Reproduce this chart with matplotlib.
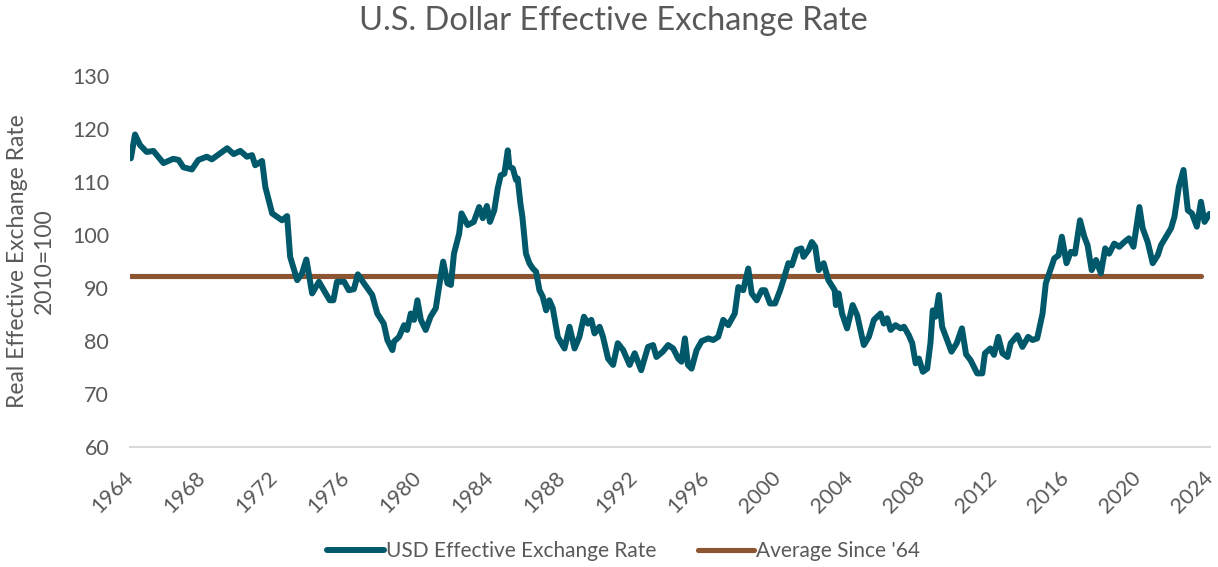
import numpy as np
import matplotlib
matplotlib.use("Agg")
import matplotlib.pyplot as plt

# USD real effective exchange rate (2010=100)
years = [1964.05, 1964.28, 1964.56, 1964.93, 1965.3, 1965.86, 1966.4, 1966.7, 1966.97, 1967.44,
         1967.8, 1968.27, 1968.55, 1969.0, 1969.4, 1969.76, 1970.13, 1970.5, 1970.78, 1970.96,
         1971.34, 1971.52, 1971.9, 1972.45, 1972.73, 1972.9, 1973.29, 1973.56, 1973.8, 1974.12,
         1974.5, 1974.77, 1975.1, 1975.3, 1975.5, 1975.9, 1976.16, 1976.44, 1976.66, 1977.0,
         1977.46, 1977.74, 1978.1, 1978.3, 1978.58, 1978.67, 1978.95, 1979.23, 1979.4, 1979.6,
         1979.78, 1979.97, 1980.16, 1980.43, 1980.7, 1980.99, 1981.17, 1981.4, 1981.64, 1981.83,
         1982.0, 1982.29, 1982.42, 1982.76, 1983.1, 1983.4, 1983.6, 1983.83, 1984.0, 1984.24,
         1984.43, 1984.6, 1984.8, 1984.99, 1985.08, 1985.27, 1985.45, 1985.54, 1985.69, 1985.8,
         1986.0, 1986.19, 1986.38, 1986.56, 1986.75, 1986.93, 1987.12, 1987.3, 1987.49, 1987.77,
         1988.14, 1988.42, 1988.7, 1988.97, 1989.22, 1989.44, 1989.63, 1989.81, 1990.09, 1990.28,
         1990.56, 1990.84, 1991.1, 1991.4, 1991.76, 1992.04, 1992.4, 1992.78, 1993.06, 1993.25,
         1993.6, 1993.9, 1994.18, 1994.46, 1994.64, 1994.83, 1995.0, 1995.2, 1995.48, 1995.76,
         1996.13, 1996.4, 1996.68, 1996.96, 1997.24, 1997.6, 1997.8, 1998.07, 1998.35, 1998.54,
         1998.82, 1999.1, 1999.28, 1999.56, 1999.84, 2000.12, 2000.3, 2000.58, 2000.77, 2001.05,
         2001.3, 2001.42, 2001.7, 2001.88, 2002.07, 2002.26, 2002.54, 2002.8, 2003.15, 2003.22,
         2003.37, 2003.56, 2003.84, 2004.15, 2004.4, 2004.77, 2005.05, 2005.33, 2005.7, 2005.88,
         2006.07, 2006.26, 2006.53, 2006.81, 2007.0, 2007.27, 2007.46, 2007.65, 2007.83, 2008.05,
         2008.29, 2008.47, 2008.6, 2008.75, 2008.94, 2009.12, 2009.4, 2009.64, 2009.93, 2010.22,
         2010.45, 2010.7, 2011.07, 2011.35, 2011.5, 2011.8, 2012.0, 2012.24, 2012.47, 2012.75,
         2012.93, 2013.3, 2013.58, 2013.9, 2014.14, 2014.4, 2014.7, 2014.88, 2015.07, 2015.35,
         2015.59, 2015.77, 2016.03, 2016.27, 2016.5, 2016.78, 2017.02, 2017.2, 2017.43, 2017.67,
         2017.94, 2018.18, 2018.4, 2018.68, 2018.96, 2019.24, 2019.5, 2019.75, 2020.08, 2020.26,
         2020.54, 2020.82, 2021.1, 2021.28, 2021.56, 2021.84, 2022.03, 2022.27, 2022.53, 2022.77,
         2023.0, 2023.27, 2023.5, 2023.7, 2023.97]
rate = [114.5, 119.0, 117.0, 115.7, 115.9, 113.6, 114.4, 114.2, 112.8, 112.4,
        114.2, 114.8, 114.3, 115.4, 116.4, 115.3, 115.9, 114.8, 115.1, 113.2,
        114.0, 109.1, 104.1, 102.8, 103.6, 95.9, 91.5, 92.8, 95.4, 89.0,
        91.2, 89.6, 87.7, 87.7, 91.2, 91.2, 89.6, 89.8, 92.6, 90.9,
        88.7, 85.2, 83.3, 80.2, 78.3, 79.9, 80.8, 83.0, 82.1, 85.2,
        84.0, 87.7, 84.0, 82.1, 84.6, 86.2, 90.2, 95.0, 90.9, 90.6,
        96.5, 100.3, 104.1, 101.9, 102.5, 105.3, 103.2, 105.5, 102.5, 104.7,
        108.8, 111.3, 111.6, 116.0, 112.9, 112.6, 110.4, 110.7, 106.0, 103.5,
        96.5, 94.7, 93.7, 93.1, 89.6, 88.4, 85.8, 87.7, 86.2, 80.8,
        78.6, 82.7, 78.6, 80.8, 84.6, 83.3, 84.0, 81.45, 82.7, 80.8,
        76.7, 75.5, 79.6, 78.3, 75.5, 77.7, 74.5, 78.9, 79.25, 77.0,
        78.0, 79.25, 78.6, 76.7, 76.1, 80.5, 75.5, 74.8, 78.3, 80.0,
        80.5, 80.2, 80.8, 84.0, 83.0, 85.2, 90.2, 89.6, 93.7, 89.0,
        87.7, 89.6, 89.6, 87.1, 87.1, 89.6, 91.5, 94.7, 94.3, 97.2,
        97.5, 95.9, 97.2, 98.7, 97.8, 93.4, 94.7, 91.5, 89.6, 86.8,
        89.0, 85.2, 82.4, 86.8, 84.9, 79.25, 80.8, 84.0, 85.2, 83.3,
        84.3, 82.1, 83.0, 82.4, 82.7, 81.1, 79.6, 75.8, 76.7, 74.2,
        74.8, 79.6, 85.8, 84.6, 88.7, 82.7, 80.2, 78.0, 79.6, 82.4,
        77.5, 76.4, 73.9, 73.9, 77.7, 78.6, 77.4, 80.8, 77.7, 77.0,
        79.6, 81.1, 78.9, 80.8, 80.2, 80.5, 85.2, 90.9, 92.8, 95.6,
        96.2, 99.7, 94.7, 96.85, 96.5, 102.8, 99.7, 98.1, 93.4, 95.3,
        92.8, 97.5, 96.5, 98.4, 97.8, 98.7, 99.4, 97.8, 105.3, 101.3,
        98.7, 94.7, 96.2, 98.1, 99.7, 101.3, 103.5, 109.1, 112.3, 104.7,
        104.1, 101.6, 106.3, 102.5, 104.0]

avg_value = 92.3
avg_span = [1964.0, 2023.5]

xticks = list(range(1964, 2025, 4))
yticks = list(range(60, 131, 10))

grey = "#595959"
teal = "#00586B"
brown = "#8C5430"

plt.rcParams["font.family"] = ["Lato", "DejaVu Sans"]

fig = plt.figure(figsize=(12.18, 5.67), dpi=100)
ax = fig.add_axes([0.1067, 0.2116, 0.8867, 0.654])

ax.plot(years, rate, color=teal, lw=4.3, solid_joinstyle="round",
        solid_capstyle="round", label="USD Effective Exchange Rate", zorder=3)
ax.plot(avg_span, [avg_value, avg_value], color=brown, lw=3.7,
        solid_capstyle="round", label="Average Since '64", zorder=2)

ax.set_xlim(1964, 2024)
ax.set_ylim(60, 130)
ax.set_xticks(xticks)
ax.set_yticks(yticks)
ax.tick_params(length=0, labelsize=15.5, colors=grey)
ax.tick_params(axis="y", pad=15)
ax.tick_params(axis="x", pad=20)
for lab in ax.get_xticklabels():
    lab.set_rotation(45)
    lab.set_ha("right")
    lab.set_va("center")
    lab.set_rotation_mode("anchor")

for s in ax.spines.values():
    s.set_visible(False)
ax.axhline(60, color="#D9D9D9", lw=1.5, zorder=1, clip_on=False)

ax.set_ylabel("Real Effective Exchange Rate\n2010=100", fontsize=16.5, color=grey,
              labelpad=12, linespacing=1.35)
fig.suptitle("U.S. Dollar Effective Exchange Rate", fontsize=23.5, color=grey,
             x=0.504, y=0.99)

fig.legend(loc="center", bbox_to_anchor=(0.512, 0.028), ncol=2, frameon=False,
           fontsize=15, handlelength=2.7, handletextpad=0.1, columnspacing=2.0,
           labelcolor=grey)

fig.savefig("out.png", dpi=100)
